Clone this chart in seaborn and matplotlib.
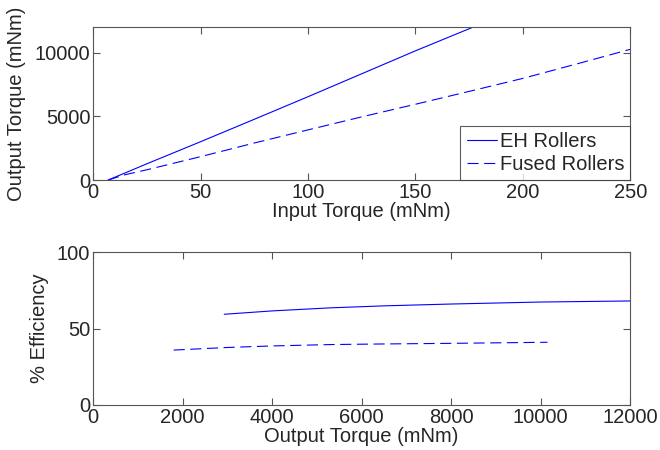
import numpy as np
import pandas as pd
import seaborn as sns
import matplotlib.pyplot as plt

# Top panel: output torque vs input torque
input_torque = [7, 15, 25, 50, 75, 100, 125, 150, 177, 200, 225, 250]
eh_output = [0, 560, 1270, 3000, 4760, 6530, 8330, 10130, 12000, 13650, 15400, 17200]
fused_output = [0, 420, 800, 1830, 2900, 3930, 4950, 5940, 7030, 7970, 9100, 10250]

# Bottom panel: efficiency vs output torque
eh_eff_torque = [2930, 4000, 5300, 6500, 8000, 10000, 12000]
eh_eff = [59.3, 61.5, 63.5, 64.8, 66.0, 67.3, 68.0]
fused_eff_torque = [1800, 3000, 4000, 5300, 6500, 8000, 10150]
fused_eff = [35.9, 37.6, 38.6, 39.5, 39.9, 40.3, 41.0]

labels = ['EH Rollers', 'Fused Rollers']

top_df = pd.concat([
    pd.DataFrame({'x': input_torque, 'y': eh_output, 'Roller': labels[0]}),
    pd.DataFrame({'x': input_torque, 'y': fused_output, 'Roller': labels[1]}),
])
bot_df = pd.concat([
    pd.DataFrame({'x': eh_eff_torque, 'y': eh_eff, 'Roller': labels[0]}),
    pd.DataFrame({'x': fused_eff_torque, 'y': fused_eff, 'Roller': labels[1]}),
])

sns.set_style('ticks')
plt.rcParams['font.family'] = ['Liberation Sans', 'DejaVu Sans']
plt.rcParams['font.size'] = 14.5

fig = plt.figure(figsize=(6.6, 4.5), dpi=100)
ax1 = fig.add_axes([0.141, 0.6, 0.814, 0.34])
ax2 = fig.add_axes([0.141, 0.1, 0.814, 0.34])

dash_map = {labels[0]: '', labels[1]: (10, 5)}
blue = '#0000ff'

sns.lineplot(data=top_df, x='x', y='y', style='Roller', dashes=dash_map,
             color=blue, linewidth=0.8, ax=ax1, sort=False)
sns.lineplot(data=bot_df, x='x', y='y', style='Roller', dashes=dash_map,
             color=blue, linewidth=0.8, ax=ax2, sort=False, legend=False)

ax1.set_xlim(0, 250)
ax1.set_ylim(0, 12000)
ax1.set_xticks([0, 50, 100, 150, 200, 250])
ax1.set_yticks([0, 5000, 10000])
ax1.set_xlabel('Input Torque (mNm)', labelpad=0)
ax1.set_ylabel('Output Torque (mNm)', labelpad=6)

ax2.set_xlim(0, 12000)
ax2.set_ylim(0, 100)
ax2.set_xticks(range(0, 12001, 2000))
ax2.set_yticks([0, 50, 100])
ax2.set_xlabel('Output Torque (mNm)', labelpad=0)
ax2.set_ylabel('% Efficiency', labelpad=6)

for ax in (ax1, ax2):
    ax.tick_params(direction='in', top=True, right=True, length=5,
                   color='#555555', labelsize=14.5, pad=2)
    for s in ax.spines.values():
        s.set_visible(True)
        s.set_color('#555555')
        s.set_linewidth(0.8)

handles, _ = ax1.get_legend_handles_labels()
leg = ax1.legend(handles=handles, labels=labels, loc='lower right',
                 fontsize=14.5, frameon=True, fancybox=False,
                 borderaxespad=0, handlelength=1.5, handletextpad=0.15,
                 borderpad=0.3, labelspacing=0.2)
leg.get_frame().set_edgecolor('#333333')
leg.get_frame().set_linewidth(0.8)

fig.savefig('out.png', dpi=100)
